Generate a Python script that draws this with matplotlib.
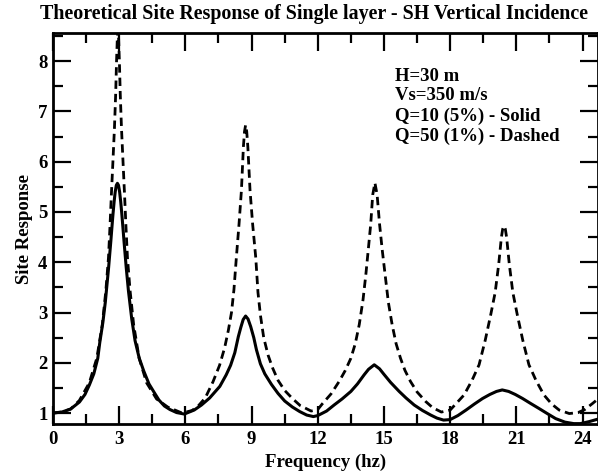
import numpy as np
import matplotlib
matplotlib.use("Agg")
import matplotlib.pyplot as plt
from matplotlib.ticker import MultipleLocator

# Q=10 (5%) - solid curve
freq_q10 = [0.0, 0.4, 0.8, 1.2, 1.45, 1.65, 1.85, 2.03, 2.12, 2.26, 2.37, 2.42,
            2.52, 2.62, 2.67, 2.72, 2.77, 2.82, 2.87, 2.92, 2.97, 3.02, 3.07,
            3.12, 3.17, 3.22, 3.32, 3.42, 3.57, 3.72, 3.91, 4.11, 4.35, 4.60,
            4.80, 5.05, 5.30, 5.60, 5.95,
            6.40, 6.73, 7.10, 7.56, 7.85, 8.05, 8.24, 8.40, 8.51, 8.62, 8.73,
            8.84, 8.96, 9.10, 9.22, 9.40, 9.60, 9.90, 10.2, 10.5, 10.85, 11.18,
            11.5, 11.8,
            12.0, 12.4, 12.74, 13.1, 13.5, 13.8, 14.1, 14.3, 14.56, 14.8, 15.0,
            15.3, 15.69, 16.0, 16.37, 16.75, 17.12, 17.4, 17.7,
            18.0, 18.35, 18.72, 19.1, 19.47, 19.8, 20.1, 20.36, 20.65, 20.95,
            21.28, 21.65, 22.03, 22.4, 22.78, 23.2, 23.6, 23.9, 24.3, 24.7]
resp_q10 = [1.00, 1.02, 1.08, 1.22, 1.37, 1.56, 1.78, 2.09, 2.40, 2.80, 3.20, 3.43,
            3.89, 4.41, 4.69, 4.96, 5.20, 5.40, 5.53, 5.57, 5.53, 5.40, 5.20,
            4.96, 4.69, 4.41, 3.89, 3.43, 2.87, 2.44, 2.09, 1.84, 1.58, 1.40,
            1.26, 1.14, 1.07, 1.01, 0.98,
            1.06, 1.16, 1.30, 1.53, 1.76, 1.95, 2.20, 2.52, 2.70, 2.86, 2.93,
            2.87, 2.72, 2.50, 2.26, 1.98, 1.78, 1.57, 1.39, 1.24, 1.12, 1.03,
            0.96, 0.93,
            0.95, 1.04, 1.16, 1.28, 1.43, 1.58, 1.76, 1.87, 1.96, 1.88, 1.77,
            1.61, 1.43, 1.30, 1.16, 1.05, 0.96, 0.90, 0.86,
            0.87, 0.95, 1.06, 1.18, 1.29, 1.37, 1.43, 1.46, 1.43, 1.37,
            1.29, 1.19, 1.09, 0.99, 0.89, 0.82, 0.79, 0.79, 0.83, 0.88]

# Q=50 (1%) - dashed curve
freq_q50 = [0.0, 0.4, 0.8, 1.195, 1.645, 1.985, 2.235, 2.395, 2.515, 2.585, 2.645,
            2.715, 2.785, 2.84, 2.88, 2.915, 2.945, 2.975, 3.01, 3.05, 3.105,
            3.175, 3.245, 3.305, 3.375, 3.495, 3.655, 3.905, 4.245, 4.695, 5.2,
            5.85,
            6.3, 6.6, 6.9, 7.25, 7.55, 7.78, 7.95, 8.09, 8.2, 8.31, 8.43, 8.54,
            8.63, 8.68, 8.73, 8.78, 8.83, 8.93, 9.05, 9.19, 9.29, 9.40, 9.55,
            9.75, 9.95, 10.2, 10.5, 10.85, 11.2, 11.7,
            12.0, 12.2, 12.6, 12.97, 13.25, 13.5, 13.7, 13.88, 14.05, 14.18,
            14.3, 14.4, 14.49, 14.59, 14.69, 14.8, 14.92, 15.05, 15.2, 15.37,
            15.55, 15.75, 15.95, 16.2, 16.5, 16.89, 17.2, 17.6,
            18.0, 18.63, 18.99, 19.31, 19.59, 19.84, 20.04, 20.2, 20.32, 20.38,
            20.44, 20.5, 20.56, 20.68, 20.84, 21.04, 21.29, 21.57, 21.89, 22.25,
            22.6, 22.94, 23.4, 23.8, 24.1, 24.45, 24.7]
resp_q50 = [1.00, 1.02, 1.08, 1.25, 1.60, 2.09, 2.76, 3.43, 4.09, 4.73, 5.33,
            5.99, 6.66, 7.33, 7.99, 8.45, 8.62, 8.45, 7.99, 7.33, 6.66,
            5.99, 5.33, 4.73, 4.09, 3.43, 2.76, 2.09, 1.60, 1.28, 1.12,
            1.00,
            1.05, 1.15, 1.30, 1.62, 1.95, 2.30, 2.65, 3.00, 3.45, 4.09, 4.75, 5.43,
            6.30, 6.60, 6.73, 6.60, 6.30, 5.43, 4.75, 4.09, 3.40, 2.95, 2.50,
            2.15, 1.90, 1.65, 1.45, 1.29, 1.15, 1.04,
            1.07, 1.18, 1.38, 1.63, 1.85, 2.09, 2.38, 2.76, 3.25, 3.76,
            4.30, 4.76, 5.34, 5.58, 5.34, 4.76, 4.25, 3.76, 3.20, 2.76,
            2.38, 2.09, 1.85, 1.63, 1.42, 1.23, 1.11, 1.02,
            1.06, 1.36, 1.65, 1.96, 2.45, 2.96, 3.40, 3.96, 4.49, 4.66,
            4.72, 4.66, 4.49, 3.96, 3.40, 2.96, 2.45, 1.96, 1.65, 1.36,
            1.18, 1.06, 0.99, 1.01, 1.07, 1.19, 1.28]

info_lines = ["H=30 m", "Vs=350 m/s", "Q=10 (5%) - Solid", "Q=50 (1%) - Dashed"]

plt.rcParams['font.family'] = ['Liberation Serif', 'DejaVu Serif']
plt.rcParams['font.weight'] = 'bold'

fig = plt.figure(figsize=(5.98, 4.76), dpi=100)
ax = fig.add_axes([0.0886, 0.109, 0.9114, 0.8217])

ax.plot(freq_q10, resp_q10, color='black', lw=2.2)
ax.plot(freq_q50, resp_q50, color='black', lw=2.0, ls=(0, (3, 1.8)))

ax.set_xlim(0, 24.7)
ax.set_ylim(0.78, 8.56)
ax.xaxis.set_major_locator(MultipleLocator(3))
ax.xaxis.set_minor_locator(MultipleLocator(1.5))
ax.yaxis.set_major_locator(MultipleLocator(1))
ax.yaxis.set_minor_locator(MultipleLocator(0.5))
ax.tick_params(which='both', direction='in', top=True, right=True, width=1.6,
               labelsize=13.5, pad=5)
ax.tick_params(axis='y', pad=4)
ax.tick_params(which='major', length=13)
ax.tick_params(which='minor', length=7)
for lab in ax.get_xticklabels() + ax.get_yticklabels():
    lab.set_fontweight('bold')
for s in ax.spines.values():
    s.set_linewidth(2)

fig.text(0.525, 0.971, "Theoretical Site Response of Single layer - SH Vertical Incidence",
         fontsize=14.4, fontweight='bold', ha='center', va='center')
ax.set_xlabel("Frequency (hz)", fontsize=13.5, fontweight='bold', labelpad=4)
ax.set_ylabel("Site Response", fontsize=13.5, fontweight='bold')
ax.yaxis.set_label_coords(-0.037, 0.5)

for i, line in enumerate(info_lines):
    ax.text(0.628, 0.89 - i * 0.051, line, transform=ax.transAxes,
            fontsize=13.5, fontweight='bold', va='center', ha='left')

fig.savefig("out.png", dpi=100)
